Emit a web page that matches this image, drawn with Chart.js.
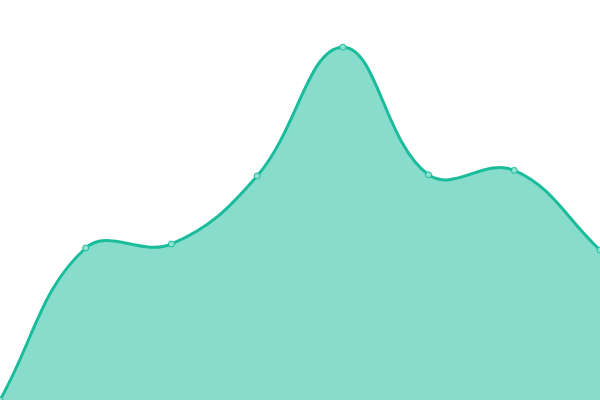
<!DOCTYPE html>
<html>
<head>
<meta charset="utf-8">
<script src="https://cdn.jsdelivr.net/npm/chart.js@4/dist/chart.umd.min.js"></script>
<style>
  html, body { margin: 0; padding: 0; background: #fff; }
  .wrap { width: 600px; height: 400px; }
</style>
</head>
<body>
<div class="wrap"><canvas id="areaChart"></canvas></div>
<script>
// DATA
const labels = ["1", "2", "3", "4", "5", "6", "7", "8"];
const values = [0, 38, 39, 56, 88.2, 56.3, 57.4, 37.5];
const yMin = 0;
const yMax = 100;

// CHART
new Chart(document.getElementById("areaChart"), {
    type: "line",
    data: {
        labels: labels,
        datasets: [{
            data: values,
            fill: "origin",
            tension: 0.4,
            borderColor: "#1abc9c",
            borderWidth: 3,
            backgroundColor: "rgba(26, 188, 156, 0.52)",
            pointRadius: 3,
            pointBorderWidth: 1,
            pointBorderColor: "#1abc9c",
            pointBackgroundColor: "#8fe0d0"
        }]
    },
    options: {
        responsive: true,
        maintainAspectRatio: false,
        animation: false,
        layout: { padding: 0, autoPadding: false },
        plugins: {
            legend: { display: false },
            tooltip: { enabled: false }
        },
        scales: {
            x: { display: false },
            y: { display: false, min: yMin, max: yMax }
        }
    }
});
</script>
</body>
</html>
